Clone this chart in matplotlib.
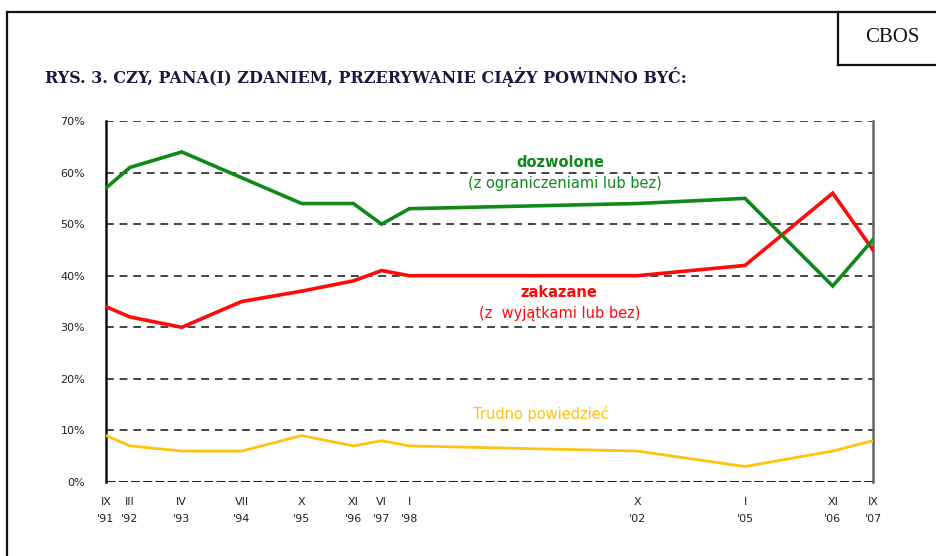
import matplotlib
matplotlib.use("Agg")
import matplotlib.pyplot as plt
from matplotlib.lines import Line2D

# ---- data ----
dates = [1991.67, 1992.17, 1993.25, 1994.5, 1995.75, 1996.83, 1997.42, 1998.0,
         2002.75, 2005.0, 2006.83, 2007.67]
tick_labels = ["IX\n'91", "III\n'92", "IV\n'93", "VII\n'94", "X\n'95", "XI\n'96",
               "VI\n'97", "I\n'98", "X\n'02", "I\n'05", "XI\n'06", "IX\n'07"]
dozwolone = [57, 61, 64, 59, 54, 54, 50, 53, 54, 55, 38, 47]
zakazane = [34, 32, 30, 35, 37, 39, 41, 40, 40, 42, 56, 45]
trudno = [9, 7, 6, 6, 9, 7, 8, 7, 6, 3, 6, 8]
yticks = [0, 10, 20, 30, 40, 50, 60, 70]

GREEN = "#0f8a1a"
RED = "#ff0a0a"
YELLOW = "#ffc20e"

fig = plt.figure(figsize=(9.36, 5.56), dpi=100)
ax = fig.add_axes([106/936, 1-482/556, (873-106)/936, (482-121)/556])

# grid lines (dashed)
for y in yticks:
    if y == 0:
        ax.axhline(y, color="#222222", lw=2.2, ls=(0, (3, 1)), zorder=1)
    else:
        ax.axhline(y, color="#444444", lw=1.4, ls=(0, (4, 3)), zorder=1)

ax.plot(dates, trudno, color=YELLOW, lw=2.0, zorder=3, solid_joinstyle="round")
ax.plot(dates, zakazane, color=RED, lw=2.6, zorder=4, solid_joinstyle="miter")
ax.plot(dates, dozwolone, color=GREEN, lw=2.6, zorder=5, solid_joinstyle="miter")

ax.set_xlim(dates[0], dates[-1])
ax.set_ylim(0, 70)
ax.set_yticks(yticks)
ax.set_yticklabels([f"{v}%" for v in yticks], fontsize=8, family="DejaVu Sans",
                   color="#222222")
ax.set_xticks(dates)
ax.set_xticklabels(tick_labels, fontsize=8, family="DejaVu Sans", color="#222222",
                   linespacing=1.8)
ax.tick_params(axis="both", length=0)
ax.tick_params(axis="y", pad=15)
ax.tick_params(axis="x", pad=11)

for s in ["top", "bottom"]:
    ax.spines[s].set_visible(False)
ax.spines["left"].set_color("#111111")
ax.spines["left"].set_linewidth(1.8)
ax.spines["right"].set_color("#666666")
ax.spines["right"].set_linewidth(1.8)

# annotations
afs = 10.5
ax.text(0.593, 0.884, "dozwolone", transform=ax.transAxes, ha="center", va="center",
        color=GREEN, fontsize=afs, fontweight="bold", family="DejaVu Sans")
ax.text(0.598, 0.828, "(z ograniczeniami lub bez)", transform=ax.transAxes, ha="center",
        va="center", color=GREEN, fontsize=afs, family="DejaVu Sans")
ax.text(0.591, 0.524, "zakazane", transform=ax.transAxes, ha="center", va="center",
        color=RED, fontsize=afs, fontweight="bold", family="DejaVu Sans")
ax.text(0.591, 0.468, "(z  wyjątkami lub bez)", transform=ax.transAxes, ha="center",
        va="center", color=RED, fontsize=afs, family="DejaVu Sans")
ax.text(0.567, 0.188, "Trudno powiedzieć", transform=ax.transAxes, ha="center",
        va="center", color=YELLOW, fontsize=afs, family="DejaVu Sans")

# title
fig.text(45/936, 1-77/556, "RYS. 3. CZY, PANA(I) ZDANIEM, PRZERYWANIE CIĄŻY POWINNO BYĆ:",
         ha="left", va="center", fontsize=11.5, fontweight="bold",
         family="DejaVu Serif", color="#1a1a40")

# outer frame
fy = 1 - 12/556
fx = 7/936
fig.add_artist(Line2D([fx, 1], [fy, fy], transform=fig.transFigure, color="#111111", lw=1.6))
fig.add_artist(Line2D([fx, fx], [0, fy], transform=fig.transFigure, color="#111111", lw=1.6))
bx = 838/936
by = 1 - 65/556
fig.add_artist(Line2D([bx, bx], [by, fy], transform=fig.transFigure, color="#111111", lw=1.6))
fig.add_artist(Line2D([bx, 1], [by, by], transform=fig.transFigure, color="#111111", lw=1.6))
fig.text(892/936, 1-38/556, "CBOS", ha="center", va="center", fontsize=15,
         family="Liberation Serif", color="#111111")

fig.savefig("out.png", dpi=100)
